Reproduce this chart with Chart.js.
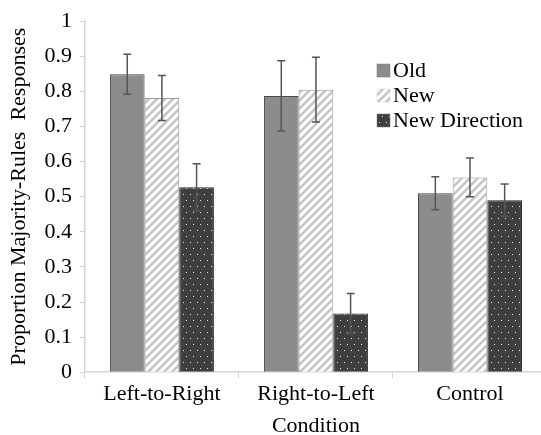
<!DOCTYPE html>
<html>
<head>
<meta charset="utf-8">
<script src="https://cdn.jsdelivr.net/npm/chart.js@4.4.1/dist/chart.umd.min.js"></script>
<style>
  html, body { margin: 0; padding: 0; background: #fff; overflow: hidden; }
  #wrap { width: 547px; height: 435px; }
</style>
</head>
<body>
<div id="wrap"><canvas id="chart" width="547" height="435"></canvas></div>
<script>
const categories = ['Left-to-Right', 'Right-to-Left', 'Control'];
const seriesNames = ['Old', 'New', 'New Direction'];
const oldValues = [0.849, 0.787, 0.510];
const oldErrors = [0.057, 0.100, 0.047];
const newValues = [0.781, 0.805, 0.555];
const newErrors = [0.064, 0.092, 0.055];
const newDirValues = [0.527, 0.167, 0.490];
const newDirErrors = [0.067, 0.057, 0.046];

const FONT = '"Liberation Serif", "Times New Roman", serif';

function stripePattern() {
    const c = document.createElement('canvas');
    c.width = 8; c.height = 8;
    const g = c.getContext('2d');
    g.fillStyle = '#ffffff';
    g.fillRect(0, 0, 8, 8);
    g.strokeStyle = '#c4c4c4';
    g.lineWidth = 2.6;
    [[-8, 8, 8, -8], [0, 8, 8, 0], [0, 16, 16, 0]].forEach(l => {
        g.beginPath();
        g.moveTo(l[0], l[1]);
        g.lineTo(l[2], l[3]);
        g.stroke();
    });
    return g.createPattern(c, 'repeat');
}

function dotPattern() {
    const c = document.createElement('canvas');
    c.width = 7; c.height = 12;
    const g = c.getContext('2d');
    g.fillStyle = '#3f3f3f';
    g.fillRect(0, 0, 7, 12);
    g.fillStyle = '#e8e8e8';
    g.fillRect(1, 2, 1, 1);
    g.fillRect(4, 8, 1, 1);
    return g.createPattern(c, 'repeat');
}

const fills = ['#8c8c8c', stripePattern(), dotPattern()];
const borders = ['#4a4a4a', '#9a9a9a', '#2a2a2a'];
const errors = [oldErrors, newErrors, newDirErrors];

const errorBars = {
    id: 'errorBars',
    afterDatasetsDraw(chart) {
        const ctx = chart.ctx;
        const y = chart.scales.y;
        ctx.save();
        ctx.strokeStyle = '#555555';
        ctx.lineWidth = 1.5;
        chart.data.datasets.forEach((ds, i) => {
            const meta = chart.getDatasetMeta(i);
            meta.data.forEach((bar, j) => {
                const v = ds.data[j];
                const e = errors[i][j];
                const top = y.getPixelForValue(v + e);
                const bot = y.getPixelForValue(v - e);
                ctx.beginPath();
                ctx.moveTo(bar.x, top);
                ctx.lineTo(bar.x, bot);
                ctx.moveTo(bar.x - 4, top);
                ctx.lineTo(bar.x + 4, top);
                ctx.moveTo(bar.x - 4, bot);
                ctx.lineTo(bar.x + 4, bot);
                ctx.stroke();
            });
        });
        ctx.restore();
    }
};

const legendBox = {
    id: 'legendBox',
    afterDraw(chart) {
        const ctx = chart.ctx;
        ctx.save();
        ctx.font = '22px ' + FONT;
        ctx.textBaseline = 'middle';
        chart.data.datasets.forEach((ds, i) => {
            const yc = 70 + i * 25;
            ctx.fillStyle = ds.backgroundColor;
            ctx.fillRect(377, yc - 6, 13, 13);
            ctx.strokeStyle = i === 1 ? '#d0d0d0' : '#777';
            ctx.lineWidth = 0.5;
            ctx.strokeRect(377, yc - 6, 13, 13);
            ctx.fillStyle = '#000';
            ctx.fillText(ds.label, 393, yc + 1);
        });
        ctx.restore();
    }
};

new Chart(document.getElementById('chart'), {
    type: 'bar',
    data: {
        labels: categories,
        datasets: [oldValues, newValues, newDirValues].map((vals, i) => ({
            label: seriesNames[i],
            data: vals,
            backgroundColor: fills[i],
            borderColor: borders[i],
            borderWidth: 1,
            categoryPercentage: 0.675,
            barPercentage: 1
        }))
    },
    options: {
        responsive: false,
        animation: false,
        layout: { padding: { top: 6, left: 6, right: 0, bottom: -4 } },
        plugins: {
            legend: { display: false },
            tooltip: { enabled: false }
        },
        scales: {
            x: {
                grid: {
                    display: true,
                    drawOnChartArea: false,
                    offset: true,
                    color: '#d4d4d4',
                    tickLength: 6
                },
                border: { color: '#d4d4d4', width: 1.5 },
                ticks: { color: '#000', font: { family: FONT, size: 22 }, padding: 3 },
                title: {
                    display: true,
                    text: 'Condition',
                    color: '#000',
                    font: { family: FONT, size: 22 },
                    padding: { top: 2, bottom: 0 }
                }
            },
            y: {
                min: 0,
                max: 1,
                ticks: {
                    stepSize: 0.1,
                    color: '#000',
                    font: { family: FONT, size: 22 },
                    padding: 8,
                    callback: v => String(Number(v.toFixed(1)))
                },
                grid: {
                    drawOnChartArea: false,
                    color: '#d4d4d4',
                    tickLength: 5
                },
                border: { color: '#d4d4d4', width: 1.5 },
                title: {
                    display: true,
                    text: 'Proportion Majority-Rules  Responses',
                    color: '#000',
                    font: { family: FONT, size: 22 },
                    padding: { top: 0, bottom: 4 }
                }
            }
        }
    },
    plugins: [errorBars, legendBox]
});
</script>
</body>
</html>
